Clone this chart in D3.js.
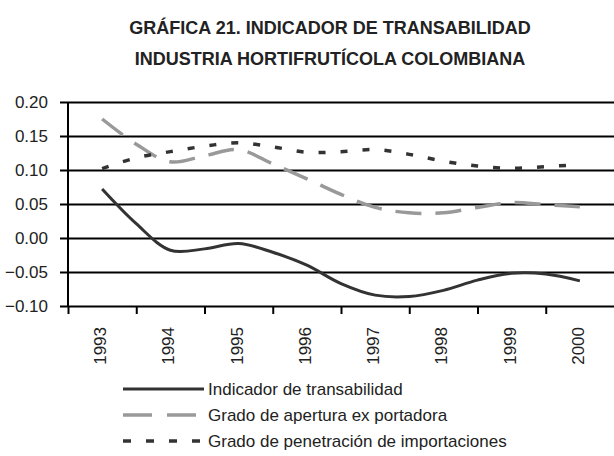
<!DOCTYPE html>
<html>
<head>
<meta charset="utf-8">
<script src="https://cdn.jsdelivr.net/npm/d3@7"></script>
<style>
	body { margin: 0; background: #fff; }
	svg { display: block; }
	text { font-family: "Liberation Sans Narrow", "Arial Narrow", "Liberation Sans", sans-serif; fill: #222; }
	.num { font-family: "Liberation Sans", Arial, sans-serif; }
</style>
</head>
<body>
<svg width="614" height="456"></svg>
<script>
"use strict";

// titles
var titleLines = ["GRÁFICA 21. INDICADOR DE TRANSABILIDAD", "INDUSTRIA HORTIFRUTÍCOLA COLOMBIANA"];

// categories (years) and semester positions
var years = ["1993", "1994", "1995", "1996", "1997", "1998", "1999", "2000"];
var periods = [1993, 1993.5, 1994, 1994.5, 1995, 1995.5, 1996, 1996.5, 1997, 1997.5, 1998, 1998.5, 1999, 1999.5, 2000];

// series values
var transabilidad = [0.072, 0.021, -0.018, -0.016, -0.008, -0.021, -0.040, -0.067, -0.084, -0.086, -0.077, -0.062, -0.052, -0.053, -0.063];
var apertura = [0.175, 0.138, 0.112, 0.121, 0.130, 0.109, 0.087, 0.064, 0.045, 0.037, 0.037, 0.045, 0.052, 0.049, 0.046];
var penetracion = [0.102, 0.118, 0.127, 0.135, 0.140, 0.134, 0.126, 0.127, 0.130, 0.123, 0.113, 0.106, 0.1025, 0.105, 0.108];

var yTicks = [0.20, 0.15, 0.10, 0.05, 0.00, -0.05, -0.10];
var legendLabels = ["Indicador de  transabilidad", "Grado de apertura ex portadora", "Grado de penetración de importaciones"];

var svg = d3.select('svg');

var x = d3.scaleLinear().domain([1992.5, 2000.5]).range([68, 614]);
var band = d3.scaleBand().domain(years).range([68, 614]);
var y = d3.scaleLinear().domain([-0.10, 0.20]).range([306, 102]);

// title
svg.selectAll('text.title').data(titleLines).enter().append('text')
	.attr('class', 'title')
	.attr('x', 330)
	.attr('y', function(d, i) { return 34 + i * 31; })
	.attr('text-anchor', 'middle')
	.attr('font-size', 18)
	.attr('font-weight', 'bold')
	.text(function(d) { return d; });

// gridlines + y labels
var yAxis = d3.axisLeft(y)
	.tickValues(yTicks)
	.tickSize(-554)
	.tickPadding(12)
	.tickFormat(d3.format('.2f'));

var gy = svg.append('g').attr('transform', 'translate(614,0)');
gy.call(d3.axisLeft(y).tickValues(yTicks).tickSize(554).tickFormat(''));
gy.select('.domain').remove();
gy.selectAll('line').attr('stroke', '#000').attr('stroke-width', 2);

svg.selectAll('text.ylab').data(yTicks).enter().append('text')
	.attr('class', 'ylab num')
	.attr('x', 48)
	.attr('y', function(d) { return y(d) + 6; })
	.attr('text-anchor', 'end')
	.attr('font-size', 17)
	.text(function(d) { return d3.format('.2f')(d); });

// y axis line
svg.append('line')
	.attr('x1', x(1992.5)).attr('x2', x(1992.5))
	.attr('y1', y(0.20)).attr('y2', y(-0.10))
	.attr('stroke', '#000').attr('stroke-width', 2);

// x axis with ticks at category boundaries
var gx = svg.append('g').attr('transform', 'translate(0,' + y(-0.10) + ')');
gx.call(d3.axisBottom(x)
	.tickValues([1992.5, 1993.5, 1994.5, 1995.5, 1996.5, 1997.5, 1998.5, 1999.5])
	.tickSize(8)
	.tickFormat(''));
gx.select('.domain').remove();
gx.selectAll('line').attr('stroke', '#000').attr('stroke-width', 2);

svg.selectAll('text.xlab').data(years).enter().append('text')
	.attr('class', 'xlab num')
	.attr('transform', function(d) {
		return 'translate(' + (band(d) + band.bandwidth() / 2 + 4) + ',' + 327 + ') rotate(-90)';
	})
	.attr('text-anchor', 'end')
	.attr('font-size', 17)
	.text(function(d) { return d; });

// series
var series = [
	{values: transabilidad, color: '#333333', width: 3, dash: null},
	{values: apertura, color: '#999999', width: 3.5, dash: '26,14'},
	{values: penetracion, color: '#333333', width: 3.5, dash: '7,15'}
];

var line = d3.line()
	.x(function(d, i) { return x(periods[i]); })
	.y(function(d) { return y(d); })
	.curve(d3.curveCatmullRom.alpha(0.5));

svg.selectAll('path.series').data(series).enter().append('path')
	.attr('class', 'series')
	.attr('fill', 'none')
	.attr('stroke', function(d) { return d.color; })
	.attr('stroke-width', function(d) { return d.width; })
	.attr('stroke-dasharray', function(d) { return d.dash; })
	.attr('d', function(d) { return line(d.values); });

// legend
var legendDash = [null, '29,15', '8,15'];
var legend = svg.selectAll('g.legend').data(series).enter().append('g')
	.attr('class', 'legend')
	.attr('transform', function(d, i) { return 'translate(123,' + (389 + i * 26) + ')'; });

legend.append('line')
	.attr('x1', 0).attr('x2', 81)
	.attr('stroke', function(d) { return d.color; })
	.attr('stroke-width', function(d) { return d.width; })
	.attr('stroke-dasharray', function(d, i) { return legendDash[i]; });

legend.append('text')
	.attr('x', 85)
	.attr('y', 6)
	.attr('font-size', 17)
	.text(function(d, i) { return legendLabels[i]; });
</script>
</body>
</html>
